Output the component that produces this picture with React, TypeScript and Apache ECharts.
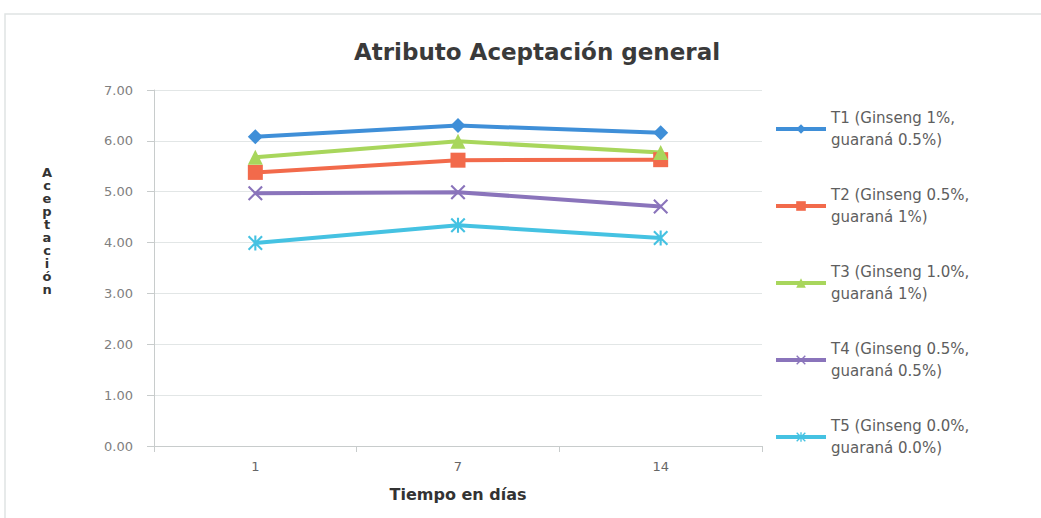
import React, { useEffect, useRef } from "react";
import * as echarts from "echarts";

const categories = ["1", "7", "14"];
const seriesNames = [
  "T1 (Ginseng 1%,\nguaraná 0.5%)",
  "T2 (Ginseng 0.5%,\nguaraná 1%)",
  "T3 (Ginseng 1.0%,\nguaraná 1%)",
  "T4 (Ginseng 0.5%,\nguaraná 0.5%)",
  "T5 (Ginseng 0.0%,\nguaraná 0.0%)",
];
const t1 = [6.08, 6.3, 6.16];
const t2 = [5.38, 5.62, 5.63];
const t3 = [5.68, 5.99, 5.77];
const t4 = [4.97, 4.99, 4.71];
const t5 = [3.99, 4.34, 4.09];
const yTicks = [0, 1, 2, 3, 4, 5, 6, 7];

const colors = ["#3f8fd8", "#f26a4b", "#a8d65c", "#8a74bb", "#45c2e2"];
const X_PATH = "path://M1,0L5,4L9,0L10,1L6,5L10,9L9,10L5,6L1,10L0,9L4,5L0,1Z";
const STAR_PATH =
  "path://M1,0L5,4L9,0L10,1L6,5L10,9L9,10L5,6L1,10L0,9L4,5L0,1ZM4.3,0L5.7,0L5.7,10L4.3,10Z";
const symbols = ["diamond", "rect", "triangle", X_PATH, STAR_PATH];
const symbolSizes = [15, 15, 15, 15, 15];

export default function App() {
  const ref = useRef<HTMLDivElement>(null);
  useEffect(() => {
    if (!ref.current) return;
    const chart = echarts.init(ref.current, null, { renderer: "svg" });
    const data = [t1, t2, t3, t4, t5];
    chart.setOption({
      animation: false,
      backgroundColor: "#ffffff",
      title: {
        text: "Atributo Aceptación general",
        left: 532,
        textAlign: "center",
        top: 35,
        textStyle: {
          fontFamily: "DejaVu Sans",
          fontWeight: "bold",
          fontSize: 23,
          color: "#3a3a3a",
        },
      },
      grid: { left: 154, right: 279, top: 90, bottom: 72, containLabel: false },
      legend: {
        orient: "vertical",
        left: 769,
        top: 91,
        itemWidth: 50,
        itemHeight: 12,
        itemGap: 11,
        data: seriesNames,
        lineStyle: { width: 4 },
        textStyle: {
          fontFamily: "DejaVu Sans",
          fontSize: 15,
          color: "#5e5e5e",
          lineHeight: 22,
          padding: [22, 0, 0, 0],
        },
      },
      xAxis: {
        type: "category",
        data: categories,
        boundaryGap: true,
        name: "Tiempo en días",
        nameLocation: "middle",
        nameGap: 40,
        nameTextStyle: {
          fontFamily: "DejaVu Sans",
          fontWeight: "bold",
          fontSize: 16,
          color: "#333333",
        },
        axisLine: { lineStyle: { color: "#c8cccc" } },
        axisTick: { show: true, length: 6, lineStyle: { color: "#c8cccc" } },
        axisLabel: {
          fontFamily: "DejaVu Sans",
          fontSize: 13,
          color: "#666666",
          margin: 14,
        },
      },
      yAxis: {
        type: "value",
        min: yTicks[0],
        max: yTicks[yTicks.length - 1],
        interval: 1,
        axisLine: { show: true, lineStyle: { color: "#c8cccc" } },
        axisTick: { show: true, length: 7, lineStyle: { color: "#c8cccc" } },
        splitLine: { lineStyle: { color: "#e2e6e6" } },
        axisLabel: {
          fontFamily: "DejaVu Sans",
          fontSize: 13,
          color: "#808080",
          margin: 21,
          formatter: (v: number) => v.toFixed(2),
        },
      },
      graphic: [
        {
          type: "rect",
          shape: { x: 5, y: 14, width: 1060, height: 520 },
          style: { fill: "none", stroke: "#e0e4e4", lineWidth: 1.5 },
          silent: true,
        },
        {
          type: "text",
          x: 47,
          y: 166,
          style: {
            text: "Aceptación".split("").join("\n"),
            fontFamily: "DejaVu Sans",
            fontWeight: "bold",
            fontSize: 13,
            lineHeight: 13,
            fill: "#333333",
            align: "center",
            verticalAlign: "top",
          },
        },
      ],
      series: data.map((d, i) => ({
        name: seriesNames[i],
        type: "line",
        data: d,
        symbol: symbols[i],
        symbolSize: symbolSizes[i],
        lineStyle: { width: 4, color: colors[i] },
        itemStyle: { color: colors[i] },
      })),
    });
    return () => chart.dispose();
  }, []);
  return (
    <div
      ref={ref}
      style={{ position: "absolute", left: 0, top: 0, width: 1041, height: 518 }}
    />
  );
}
